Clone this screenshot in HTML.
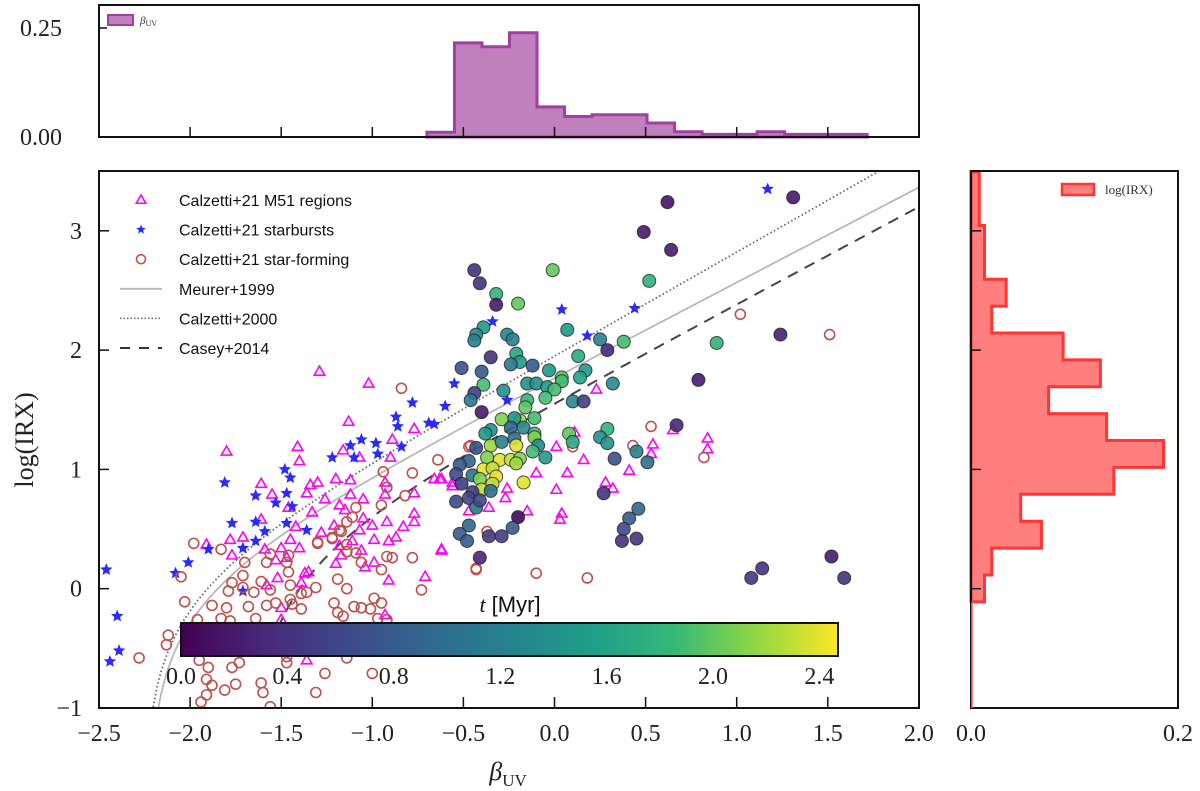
<!DOCTYPE html>
<html><head><meta charset="utf-8"><style>
html,body{margin:0;padding:0;background:#fff;}
svg{display:block;}
.tk{font-family:"Liberation Serif",serif;font-size:24px;fill:#222;}
.lg{font-family:"Liberation Sans",sans-serif;font-size:16px;fill:#111;}
</style></head><body>
<svg id="fig" xmlns="http://www.w3.org/2000/svg" width="1200" height="791" viewBox="0 0 1200 791">
<defs>
<linearGradient id="vir" x1="0" x2="1" y1="0" y2="0">
<stop offset="0" stop-color="#440154"/><stop offset="0.125" stop-color="#482878"/><stop offset="0.25" stop-color="#3e4989"/><stop offset="0.375" stop-color="#31688e"/><stop offset="0.5" stop-color="#26828e"/><stop offset="0.625" stop-color="#1f9e89"/><stop offset="0.75" stop-color="#35b779"/><stop offset="0.875" stop-color="#90d743"/><stop offset="1" stop-color="#fde725"/>
</linearGradient>
<clipPath id="mainclip"><rect x="99" y="171" width="820" height="537"/></clipPath>
</defs>
<g id="topHist"></g>
<g id="rightHist"></g>
<g id="mainPlot"></g>
</svg>
<script>
// ---- data ----
const tBeta=[0.62,1.31,0.49,0.64,-0.44,-0.41,-0.01,-0.32,-0.32,-0.20,0.52,0.07,-0.39,-0.43,-0.44,-0.26,-0.23,0.25,0.38,0.29,0.89,1.24,-0.35,-0.21,-0.19,-0.24,-0.51,-0.40,-0.12,0.13,0.17,0.14,-0.03,-0.39,-0.15,-0.10,0.04,0.04,-0.04,0.0,0.32,-0.28,-0.44,-0.46,-0.05,-0.15,-0.16,0.10,0.16,-0.40,-0.29,-0.19,-0.11,-0.22,-0.24,-0.35,-0.38,-0.17,-0.11,-0.11,-0.35,-0.29,-0.22,-0.21,-0.09,-0.12,0.08,0.10,0.29,0.25,0.29,-0.43,-0.05,-0.37,-0.30,-0.24,-0.19,-0.21,-0.47,-0.52,-0.39,-0.34,-0.54,-0.45,-0.41,-0.32,-0.34,-0.51,-0.40,-0.45,-0.35,-0.17,0.45,0.51,0.33,0.67,0.79,0.27,-0.54,-0.47,-0.43,-0.41,-0.20,0.46,0.41,0.38,0.37,0.45,-0.47,-0.52,-0.48,-0.36,-0.29,-0.23,-0.41,1.52,1.14,1.08,1.59];
const tIrx=[3.24,3.28,2.99,2.84,2.67,2.56,2.67,2.47,2.38,2.39,2.58,2.17,2.19,2.13,2.08,2.13,2.09,2.09,2.07,2.00,2.06,2.13,1.94,1.97,1.90,1.88,1.85,1.82,1.87,1.95,1.83,1.77,1.83,1.71,1.72,1.72,1.77,1.74,1.69,1.67,1.72,1.66,1.64,1.58,1.60,1.58,1.52,1.57,1.57,1.48,1.42,1.41,1.43,1.43,1.35,1.33,1.30,1.35,1.30,1.27,1.20,1.23,1.26,1.20,1.20,1.15,1.30,1.23,1.34,1.27,1.22,1.18,1.10,1.10,1.08,1.08,1.09,1.05,1.07,1.04,1.00,1.01,0.96,0.95,0.92,0.94,0.88,0.88,0.83,0.81,0.82,0.89,1.15,1.06,1.09,1.37,1.75,0.80,0.73,0.76,0.68,0.74,0.60,0.67,0.59,0.50,0.40,0.42,0.53,0.46,0.40,0.44,0.44,0.51,0.26,0.27,0.17,0.09,0.09];
const tAge=[0.15,0.2,0.2,0.2,0.4,0.4,2.0,1.8,0.2,2.0,1.8,1.5,1.5,1.3,1.2,1.3,1.2,1.2,1.9,0.3,1.8,0.25,0.4,1.6,1.5,1.1,0.7,0.8,0.8,1.7,1.5,1.6,1.5,1.9,1.4,1.4,2.0,1.9,1.5,1.9,1.3,1.4,0.5,1.1,1.9,1.8,2.0,1.3,0.5,0.2,2.1,2.2,1.9,1.4,0.9,1.4,1.5,1.3,1.9,2.1,2.2,1.2,1.0,2.4,1.3,1.9,2.0,1.7,1.8,1.4,1.4,0.7,1.5,2.1,2.4,2.3,2.1,2.2,0.9,0.8,2.4,2.3,0.6,1.1,2.1,2.4,2.3,0.5,2.3,0.5,1.0,2.4,1.2,1.0,0.7,0.3,0.2,0.4,0.6,0.6,1.1,0.6,0.05,0.9,0.8,0.6,0.4,0.4,0.9,0.8,0.8,0.5,0.5,0.8,0.3,0.2,0.4,0.45,0.4];
const sbBeta=[-0.55,-0.78,-0.60,-0.87,-0.86,-0.69,-0.66,-1.06,-1.12,-0.98,-0.84,-0.97,-1.22,-1.10,-1.48,-1.45,-1.81,-1.64,-1.47,-1.53,-1.44,-1.77,-1.64,-1.47,-1.59,-1.36,-1.64,-1.90,-1.71,-2.01,-2.08,-2.46,-1.71,-2.40,-2.39,-2.44,1.17,-0.34,0.04,0.44,0.18,-0.26];
const sbIrx=[1.72,1.56,1.53,1.44,1.36,1.39,1.38,1.25,1.20,1.22,1.19,1.13,1.10,1.10,1.00,0.93,0.89,0.78,0.80,0.72,0.69,0.55,0.56,0.55,0.48,0.49,0.40,0.33,0.34,0.22,0.13,0.16,-0.02,-0.23,-0.52,-0.61,3.35,2.24,2.34,2.35,2.12,1.58];
const m51Beta=[-1.29,-1.02,-1.80,-1.41,-1.40,-1.13,-0.77,-0.89,-0.90,-1.16,-1.07,-1.20,-1.12,-1.30,-1.34,-1.61,-1.55,-1.36,-1.26,-1.12,-1.05,-0.93,-0.93,-0.63,-0.56,-0.77,-1.46,-1.33,-1.18,-1.15,-1.05,-1.00,-0.92,-0.77,-0.77,-1.61,-1.42,-1.28,-1.21,-1.07,-0.83,-0.87,-0.99,-0.91,-1.71,-1.78,-1.91,-1.77,-1.59,-1.45,-1.50,-1.40,-1.18,-1.11,-0.62,-1.53,-1.47,-1.17,-1.06,-0.99,-1.04,-1.20,-1.35,-1.37,-0.91,-0.71,-1.58,-1.52,-1.39,-1.50,-1.50,-0.93,-1.36,0.23,0.65,0.84,0.84,0.54,0.53,0.41,0.16,0.11,0.01,0.07,-0.10,0.28,0.32,0.01,0.04,0.03,-0.15,-0.26,-0.27,-0.36,-0.47,-0.62,-0.66,-0.62,-0.56];
const m51Irx=[1.82,1.72,1.15,1.19,1.07,1.40,1.34,1.25,1.10,1.16,1.10,0.92,0.91,0.89,0.87,0.88,0.79,0.80,0.75,0.79,0.75,0.89,0.79,0.92,0.89,0.80,0.68,0.64,0.70,0.66,0.59,0.53,0.56,0.63,0.56,0.58,0.52,0.47,0.53,0.49,0.52,0.43,0.41,0.40,0.43,0.41,0.37,0.28,0.33,0.41,0.34,0.34,0.36,0.40,0.32,0.24,0.26,0.28,0.32,0.22,0.18,0.21,0.14,0.13,0.07,0.10,0.03,0.09,0.05,-0.16,-0.26,-0.22,-0.60,1.67,1.33,1.26,1.17,1.21,1.13,0.99,1.08,1.31,1.19,0.97,0.97,0.89,0.84,0.83,0.63,0.58,0.65,0.84,0.76,0.68,0.65,0.33,0.92,0.92,0.86];
const sfBeta=[-1.98,-1.83,-2.05,-2.03,-1.70,-1.56,-1.46,-1.47,-1.58,-1.46,-1.71,-1.77,-1.79,-1.71,-1.65,-1.61,-1.56,-1.45,-1.36,-1.30,-1.22,-1.18,-1.14,-1.14,-1.09,-1.06,-0.95,-0.92,-0.89,-0.78,-0.73,-1.31,-1.19,-1.14,-1.39,-1.45,-1.88,-1.80,-1.68,-1.58,-1.53,-1.64,-1.44,-1.39,-1.21,-1.19,-1.16,-1.10,-1.06,-1.01,-0.99,-0.95,-0.97,-0.92,-2.28,-2.13,-2.12,-1.96,-1.83,-1.78,-1.90,-1.77,-1.73,-1.47,-1.47,-1.95,-1.91,-1.88,-1.75,-1.81,-1.94,-1.91,-1.61,-1.60,-1.31,-1.26,-1.14,-1.00,-1.56,-0.84,-0.64,-0.78,-0.94,-0.92,-0.82,-0.95,-0.47,-1.09,-1.11,-1.14,-1.17,-1.22,-1.30,-0.43,-0.37,1.02,1.51,0.53,0.43,0.82,0.10,-0.46,-0.43,-0.10,0.18];
const sfIrx=[0.38,0.33,0.10,-0.11,0.22,0.29,0.28,0.22,0.22,0.14,0.11,0.05,-0.02,0.01,-0.03,0.06,-0.01,0.03,-0.03,0.38,0.42,0.49,0.37,0.31,0.30,0.22,0.16,0.27,0.26,0.26,-0.01,0.01,0.08,0.00,-0.04,-0.09,-0.14,-0.16,-0.15,-0.14,-0.12,-0.25,-0.13,-0.17,-0.12,-0.20,-0.23,-0.15,-0.16,-0.17,-0.08,-0.12,-0.25,-0.26,-0.58,-0.47,-0.39,-0.26,-0.25,-0.27,-0.66,-0.66,-0.62,-0.62,-0.57,-0.60,-0.76,-0.81,-0.80,-0.85,-0.95,-0.89,-0.79,-0.87,-0.87,-0.71,-0.58,-0.71,-0.99,1.68,1.08,0.97,0.98,0.85,0.78,0.70,1.19,0.68,0.60,0.56,0.48,0.43,0.39,0.16,0.48,2.30,2.13,1.36,1.20,1.10,1.19,1.20,0.17,0.13,0.09];
const betaHistStart=-0.70, betaHistWidth=0.151;
const betaHistVals=[0.011,0.216,0.207,0.239,0.069,0.047,0.051,0.051,0.032,0.012,0.006,0.006,0.012,0.006,0.006,0.006];
const irxHistStart=-0.11, irxHistWidth=0.2253;
const irxHistVals=[0.013,0.020,0.068,0.048,0.138,0.186,0.131,0.075,0.125,0.089,0.020,0.034,0.013,0.013,0.008,0.008];
const xTicks=[-2.5,-2.0,-1.5,-1.0,-0.5,0.0,0.5,1.0,1.5,2.0];
const xTickLabels=["\u22122.5","\u22122.0","\u22121.5","\u22121.0","\u22120.5","0.0","0.5","1.0","1.5","2.0"];
const yTicks=[-1,0,1,2,3];
const yTickLabels=["\u22121","0","1","2","3"];
const cbTicks=[0.0,0.4,0.8,1.2,1.6,2.0,2.4];
const cbTickLabels=["0.0","0.4","0.8","1.2","1.6","2.0","2.4"];
const topYTicks=[0.0,0.25];
const topYTickLabels=["0.00","0.25"];

// ---- scales ----
const NS="http://www.w3.org/2000/svg";
const X=b=>99+(b+2.5)*182.2;
const Y=v=>708-(v+1)*119.3;
const HY=h=>137-h*436;
const HX=h=>971+h*1035;
const CB0=181,CBW=657,CBMAX=2.47;
const CX=t=>CB0+t/CBMAX*CBW;
function el(tag,attrs,parent){const e=document.createElementNS(NS,tag);for(const k in attrs)e.setAttribute(k,attrs[k]);parent.appendChild(e);return e;}
const vstops=[[68,1,84],[72,40,120],[62,73,137],[49,104,142],[38,130,142],[31,158,137],[53,183,121],[144,215,67],[253,231,37]];
function viridis(t){let f=Math.max(0,Math.min(1,t/CBMAX))*8;let i=Math.min(7,Math.floor(f));let r=f-i;const a=vstops[i],b=vstops[i+1];return `rgb(${Math.round(a[0]+(b[0]-a[0])*r)},${Math.round(a[1]+(b[1]-a[1])*r)},${Math.round(a[2]+(b[2]-a[2])*r)})`;}

// ---- top histogram ----
const topG=document.getElementById('topHist');
let d=`M${X(betaHistStart)},${HY(0)}`;
betaHistVals.forEach((h,i)=>{const x0=X(betaHistStart+i*betaHistWidth),x1=X(betaHistStart+(i+1)*betaHistWidth);d+=` L${x0},${HY(h)} L${x1},${HY(h)}`;});
d+=` L${X(betaHistStart+betaHistVals.length*betaHistWidth)},${HY(0)} Z`;
let p=el('path',{d:d,fill:'#c080bd',stroke:'#a040a0','stroke-width':3,'stroke-linejoin':'miter'},topG);


let r=el('rect',{x:99,y:5,width:820,height:132,fill:'none',stroke:'#111','stroke-width':2},topG);


xTicks.forEach(b=>{el('line',{x1:X(b),x2:X(b),y1:137,y2:127,stroke:'#111','stroke-width':1.5},topG);});
topYTicks.forEach((h,i)=>{el('line',{x1:99,x2:107,y1:HY(h),y2:HY(h),stroke:'#111','stroke-width':1.5},topG);
 let t=el('text',{x:62,y:HY(h)+8,'text-anchor':'end',class:'tk'},topG);t.textContent=topYTickLabels[i];
 
 });
let lp=el('rect',{x:108,y:15,width:25,height:10,fill:'#c080bd',stroke:'#a040a0','stroke-width':2},topG);


let lt=el('text',{x:140,y:24,'font-family':'Liberation Serif,serif','font-size':11,'font-style':'italic',fill:'#333'},topG);
lt.textContent='β';
let ls=el('tspan',{'font-size':8,'font-style':'normal',dy:2},lt);ls.textContent='UV';



// ---- right histogram ----
const rightG=document.getElementById('rightHist');
d=`M${HX(0)},${Y(irxHistStart)}`;
irxHistVals.forEach((h,i)=>{const y0=Y(irxHistStart+i*irxHistWidth),y1=Y(irxHistStart+(i+1)*irxHistWidth);d+=` L${HX(h)},${y0} L${HX(h)},${y1}`;});
d+=` L${HX(0)},${Y(irxHistStart+irxHistVals.length*irxHistWidth)} Z`;
p=el('path',{d:d,fill:'#ff7f7f',stroke:'#ff3535','stroke-width':3},rightG);


r=el('rect',{x:971,y:171,width:207,height:537,fill:'none',stroke:'#111','stroke-width':2},rightG);


el('line',{x1:972,x2:972,y1:Y(irxHistStart),y2:708,stroke:'#ff6060','stroke-width':1.5},rightG);
yTicks.forEach(v=>{if(v>-1)el('line',{x1:971,x2:981,y1:Y(v),y2:Y(v),stroke:'#111','stroke-width':1.5},rightG);});
[[0,'0.0'],[0.2,'0.2']].forEach(a=>{let t=el('text',{x:HX(a[0]),y:741,'text-anchor':'middle',class:'tk'},rightG);t.textContent=a[1];
 
 });
lp=el('rect',{x:1062,y:184,width:32,height:11,fill:'#ff7f7f',stroke:'#ff3535','stroke-width':2.5},rightG);


lt=el('text',{x:1105,y:194,'font-family':'Liberation Serif,serif','font-size':13,fill:'#333'},rightG);
lt.textContent='log(IRX)';



// ---- main ----
const mainG=document.getElementById('mainPlot');
const plotG=el('g',{'clip-path':'url(#mainclip)'},mainG);
function curve(k,a,b,bmin,attrs,name){let pts=[];for(let x=bmin;x<=2.0001;x+=0.01){const irx=k*(Math.pow(10,0.4*(a+b*x))-1);if(irx<=0)continue;const v=Math.log10(irx);if(v<-1.2)continue;pts.push(X(x).toFixed(1)+','+Y(Math.min(v,3.8)).toFixed(1));}
 const pl=el('polyline',Object.assign({points:pts.join(' '),fill:'none'},attrs),plotG);
 
 }
curve(1,4.43,1.99,-2.5,{stroke:'#b8b8b8','stroke-width':1.8},'meurer-1999-line');
curve(1,4.885,2.17,-2.5,{stroke:'#666','stroke-width':1.8,'stroke-dasharray':'1.5 2.5'},'calzetti-2000-line');
curve(1.68,3.36,2.04,-1.55,{stroke:'#444','stroke-width':2,'stroke-dasharray':'11 8'},'casey-2014-line');

function triPts(cx,cy,s){return `${cx},${cy-s} ${cx-s*0.95},${cy+s*0.65} ${cx+s*0.95},${cy+s*0.65}`;}
function starPts(cx,cy,R){let q=[];for(let i=0;i<10;i++){const rr=i%2?R*0.45:R;const a=-Math.PI/2+i*Math.PI/5;q.push((cx+rr*Math.cos(a)).toFixed(1)+','+(cy+rr*Math.sin(a)).toFixed(1));}return q.join(' ');}
m51Beta.forEach((b,i)=>{const m=el('polygon',{points:triPts(X(b),Y(m51Irx[i]),5.5),fill:'none',stroke:'#ff00ff','stroke-width':1.6},plotG);
 
 });
sbBeta.forEach((b,i)=>{const m=el('polygon',{points:starPts(X(b),Y(sbIrx[i]),5.5),fill:'#2a2aff',stroke:'#2a2aff','stroke-width':0.8},plotG);
 
 });
sfBeta.forEach((b,i)=>{const m=el('circle',{cx:X(b),cy:Y(sfIrx[i]),r:5,fill:'none',stroke:'#c0504d','stroke-width':1.6},plotG);
 
 });
tBeta.forEach((b,i)=>{const m=el('circle',{cx:X(b),cy:Y(tIrx[i]),r:6.5,fill:viridis(tAge[i]),'fill-opacity':0.9,stroke:'#222','stroke-opacity':0.8,'stroke-width':1},plotG);
 
 });

// colorbar
const cbl=el('text',{x:510,y:612,'text-anchor':'middle','font-family':'Liberation Sans,sans-serif','font-size':22,fill:'#111'},mainG);
let ct=el('tspan',{'font-family':'Liberation Serif,serif','font-style':'italic'},cbl);ct.textContent='t';
let ct2=el('tspan',{},cbl);ct2.textContent=' [Myr]';


const cb=el('rect',{x:CB0,y:623,width:CBW,height:33,fill:'url(#vir)',stroke:'#111','stroke-width':2},mainG);


cbTicks.forEach((t,i)=>{const tx=el('text',{x:CX(t),y:684,'text-anchor':'middle',class:'tk',fill:'#333'},mainG);tx.textContent=cbTickLabels[i];
 
 });

r=el('rect',{x:99,y:171,width:820,height:537,fill:'none',stroke:'#111','stroke-width':2},mainG);


xTicks.forEach((b,i)=>{el('line',{x1:X(b),x2:X(b),y1:708,y2:697,stroke:'#111','stroke-width':1.5},mainG);
 const t=el('text',{x:X(b),y:741,'text-anchor':'middle',class:'tk'},mainG);t.textContent=xTickLabels[i];
 
 });
yTicks.forEach((v,i)=>{el('line',{x1:99,x2:109,y1:Y(v),y2:Y(v),stroke:'#111','stroke-width':1.5},mainG);
 const t=el('text',{x:82,y:Y(v)+8,'text-anchor':'end',class:'tk'},mainG);t.textContent=yTickLabels[i];
 
 });
const xl=el('text',{x:508,y:780,'text-anchor':'middle','font-family':'Liberation Serif,serif','font-size':26,'font-style':'italic',fill:'#222'},mainG);
xl.textContent='β';
let xs=el('tspan',{'font-size':17,'font-style':'normal',dy:6},xl);xs.textContent='UV';


const yl=el('text',{x:0,y:0,'text-anchor':'middle','font-family':'Liberation Serif,serif','font-size':26,fill:'#222',transform:'translate(33,440) rotate(-90)'},mainG);
yl.textContent='log(IRX)';



// legend
const leg=el('g',{},mainG);


const legLabels=['Calzetti+21 M51 regions','Calzetti+21 starbursts','Calzetti+21 star-forming','Meurer+1999','Calzetti+2000','Casey+2014'];
legLabels.forEach((s,i)=>{const y=200+i*29.6;
 if(i==0)el('polygon',{points:triPts(141,y,5),fill:'none',stroke:'#ff00ff','stroke-width':1.6},leg);
 if(i==1)el('polygon',{points:starPts(141,y,5),fill:'#2a2aff'},leg);
 if(i==2)el('circle',{cx:141,cy:y,r:4.5,fill:'none',stroke:'#c0504d','stroke-width':1.6},leg);
 if(i==3)el('line',{x1:120,x2:162,y1:y,y2:y,stroke:'#b8b8b8','stroke-width':1.8},leg);
 if(i==4)el('line',{x1:120,x2:162,y1:y,y2:y,stroke:'#666','stroke-width':1.5,'stroke-dasharray':'1.5 2'},leg);
 if(i==5)el('line',{x1:120,x2:162,y1:y,y2:y,stroke:'#333','stroke-width':2,'stroke-dasharray':'10 9'},leg);
 const t=el('text',{x:179,y:y+6,class:'lg'},leg);t.textContent=s;
 
 });
</script>
</body></html>
